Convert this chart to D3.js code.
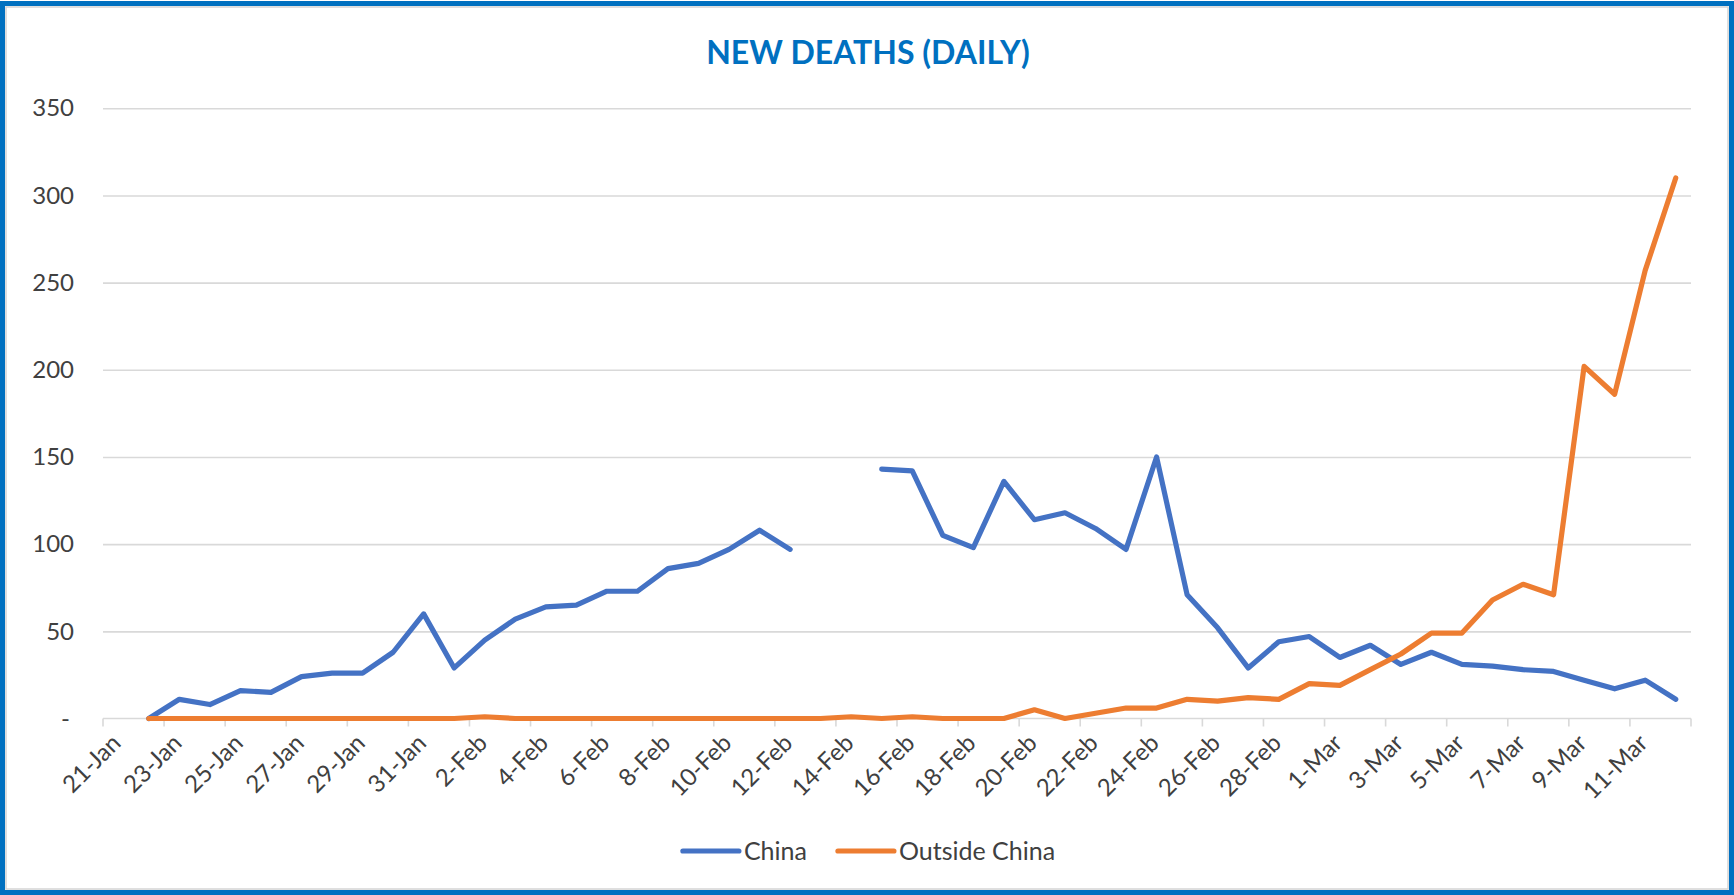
<!DOCTYPE html>
<html>
<head>
<meta charset="utf-8">
<script src="https://cdn.jsdelivr.net/npm/d3@7"></script>
<style>
  html, body { margin: 0; padding: 0; background: #fff; }
  svg { display: block; font-family: Lato, "Open Sans", sans-serif; }
</style>
</head>
<body>
<div id="chart"></div>
<script>
// categories (one per day)
const dates = [
  "21-Jan", "22-Jan", "23-Jan", "24-Jan", "25-Jan", "26-Jan", "27-Jan", "28-Jan", "29-Jan", "30-Jan", "31-Jan",
  "1-Feb", "2-Feb", "3-Feb", "4-Feb", "5-Feb", "6-Feb", "7-Feb", "8-Feb", "9-Feb", "10-Feb",
  "11-Feb", "12-Feb", "13-Feb", "14-Feb", "15-Feb", "16-Feb", "17-Feb", "18-Feb", "19-Feb", "20-Feb",
  "21-Feb", "22-Feb", "23-Feb", "24-Feb", "25-Feb", "26-Feb", "27-Feb", "28-Feb", "29-Feb",
  "1-Mar", "2-Mar", "3-Mar", "4-Mar", "5-Mar", "6-Mar", "7-Mar", "8-Mar", "9-Mar", "10-Mar", "11-Mar", "12-Mar"
];

// new deaths per day, null = no value
const china = [
  null, 0, 11, 8, 16, 15, 24, 26, 26, 38, 60,
  29, 45, 57, 64, 65, 73, 73, 86, 89, 97,
  108, 97, null, null, 143, 142, 105, 98, 136, 114,
  118, 109, 97, 150, 71, 52, 29, 44, 47,
  35, 42, 31, 38, 31, 30, 28, 27, 22, 17, 22, 11
];
const outside = [
  null, 0, 0, 0, 0, 0, 0, 0, 0, 0, 0,
  0, 1, 0, 0, 0, 0, 0, 0, 0, 0,
  0, 0, 0, 1, 0, 1, 0, 0, 0, 5,
  0, 3, 6, 6, 11, 10, 12, 11, 20,
  19, 28, 37, 49, 49, 68, 77, 71, 202, 186, 257, 310
];

const xTickLabels = [
  "21-Jan", "23-Jan", "25-Jan", "27-Jan", "29-Jan", "31-Jan", "2-Feb", "4-Feb", "6-Feb", "8-Feb",
  "10-Feb", "12-Feb", "14-Feb", "16-Feb", "18-Feb", "20-Feb", "22-Feb", "24-Feb", "26-Feb", "28-Feb",
  "1-Mar", "3-Mar", "5-Mar", "7-Mar", "9-Mar", "11-Mar"
];
const yTicks = [0, 50, 100, 150, 200, 250, 300, 350];

const seriesNames = ["China", "Outside China"];
const colors = ["#4472C4", "#ED7D31"];

const width = 1734;
const height = 895;
const marginTop = 108.3;
const marginRight = 43;
const marginBottom = 176.5;
const marginLeft = 103;

const x = d3.scaleBand().domain(dates).range([marginLeft, width - marginRight]);
const y = d3.scaleLinear().domain([0, 350]).range([height - marginBottom, marginTop]);

const svg = d3.create("svg")
    .attr("width", width)
    .attr("height", height)
    .attr("viewBox", [0, 0, width, height]);

document.getElementById("chart").appendChild(svg.node());

// frame
svg.append("rect")
    .attr("x", 2.5).attr("y", 3.5)
    .attr("width", width - 5).attr("height", height - 6)
    .attr("fill", "#fff")
    .attr("stroke", "#0070C0")
    .attr("stroke-width", 5);
svg.append("rect")
    .attr("x", 6).attr("y", 7)
    .attr("width", width - 12).attr("height", height - 13)
    .attr("fill", "none")
    .attr("stroke", "#d4d4d4")
    .attr("stroke-width", 1.5);

// title
svg.append("text")
    .attr("x", width / 2 + 1)
    .attr("y", 64)
    .attr("text-anchor", "middle")
    .attr("fill", "#0070C0")
    .attr("font-size", 32)
    .attr("font-weight", 700)
    .text("NEW DEATHS (DAILY)");

// gridlines + y labels
const yAxis = svg.append("g")
    .attr("transform", `translate(${marginLeft},0)`)
    .call(d3.axisLeft(y)
        .tickValues(yTicks)
        .tickSize(-(width - marginLeft - marginRight))
        .tickPadding(29)
        .tickFormat(d => d === 0 ? "-" : d));
yAxis.select(".domain").remove();
yAxis.selectAll(".tick line")
    .attr("stroke", "#d9d9d9")
    .attr("stroke-width", 1.6)
    .filter(d => d === 0).remove();
yAxis.selectAll(".tick text")
    .attr("fill", "#404040")
    .attr("font-size", 24)
    .attr("font-family", "Lato, sans-serif")
    .attr("dx", d => d === 0 ? -4 : 0);

// x axis line and tick marks at category boundaries
const xAxisG = svg.append("g")
    .attr("transform", `translate(0,${height - marginBottom})`);
xAxisG.append("line")
    .attr("x1", x.range()[0]).attr("x2", x.range()[1])
    .attr("stroke", "#d9d9d9")
    .attr("stroke-width", 1.6);
const tickPos = xTickLabels.map(d => x(d)).concat([x.range()[1]]);
xAxisG.selectAll(".bound")
    .data(tickPos)
    .join("line")
    .attr("class", "bound")
    .attr("x1", d => d).attr("x2", d => d)
    .attr("y1", 0).attr("y2", 8)
    .attr("stroke", "#d9d9d9")
    .attr("stroke-width", 1.6);

// x labels at category centres, rotated
const xAxis = xAxisG.append("g")
    .call(d3.axisBottom(x).tickValues(xTickLabels).tickSize(0));
xAxis.select(".domain").remove();
xAxis.selectAll(".tick text")
    .attr("fill", "#404040")
    .attr("font-size", 24)
    .attr("font-family", "Lato, sans-serif")
    .attr("text-anchor", "end")
    .attr("x", 0).attr("y", 0).attr("dy", 0)
    .attr("transform", "translate(4,26) rotate(-45)");

// lines
const line = d3.line()
    .defined(d => d != null)
    .x((d, i) => x(dates[i]) + x.bandwidth() / 2)
    .y(d => y(d));

[china, outside].forEach((values, k) => {
    svg.append("path")
        .attr("fill", "none")
        .attr("stroke", colors[k])
        .attr("stroke-width", 5.2)
        .attr("stroke-linejoin", "round")
        .attr("stroke-linecap", "round")
        .attr("d", line(values));
});

// legend
const legend = svg.append("g").attr("transform", "translate(0,851)");
const items = legend.selectAll("g")
    .data(seriesNames)
    .join("g");
items.append("line")
    .attr("x1", 0).attr("x2", 56)
    .attr("stroke", (d, i) => colors[i])
    .attr("stroke-width", 5.2)
    .attr("stroke-linecap", "round");
items.append("text")
    .attr("x", 61)
    .attr("dy", "0.35em")
    .attr("fill", "#404040")
    .attr("font-size", 25)
    .text(d => d);

const widths = [];
items.each(function () { widths.push(61 + this.querySelector("text").getComputedTextLength()); });
const total = widths[0] + 31 + widths[1];
const start = width / 2 + 2 - total / 2;
items.attr("transform", (d, i) => {
    const tx = start + (i === 0 ? 0 : widths[0] + 31);
    return `translate(${tx},0)`;
});
</script>
</body>
</html>
